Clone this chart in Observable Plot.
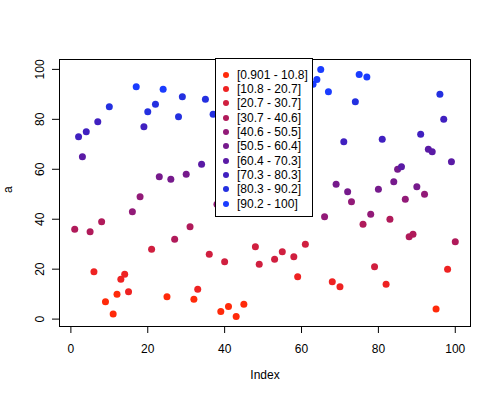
<!DOCTYPE html>
<html>
<head>
<meta charset="utf-8">
<script src="https://cdn.jsdelivr.net/npm/d3@7"></script>
<script src="https://cdn.jsdelivr.net/npm/@observablehq/plot@0.6"></script>
<style>
  body { margin: 0; background: #fff; font-family: "Liberation Sans", Arial, sans-serif; }
  #wrap { position: relative; width: 500px; height: 400px; overflow: hidden; }
  #legend { position: absolute; left: 215px; top: 58px; width: 98px; height: 159px; box-sizing: border-box;
            border: 1px solid #000; background: #fff; font-size: 12px; color: #000; }
  #legend .row { position: absolute; left: 0; height: 14px; line-height: 14px; white-space: nowrap; }
  #legend .dot { position: absolute; left: 7px; top: 4px; width: 6px; height: 6px; border-radius: 50%; }
  #legend .lab { position: absolute; left: 21px; top: 0; }
</style>
</head>
<body>
<div id="wrap"></div>
<script>
// Index values 1..100
const index = d3.range(1, 101);
// Series "a" (12 points hidden behind the legend)
const values = [
  36, 73, 65, 75, 35, 19, 79, 39, 7, 85,
  2, 10, 16, 18, 11, 43, 93, 49, 77, 83,
  28, 86, 57, 92, 9, 56, 32, 81, 89, 58,
  37, 8, 12, 62, 88, 26, 82, 46, 3, 23,
  5, 44, 1, 45, 6, 59, 64, 29, 22, 66,
  69, 70, 24, 76, 27, 78, 84, 25, 17, 95,
  30, 99, 94, 96, 100, 41, 91, 15, 54, 13,
  71, 51, 47, 87, 98, 38, 97, 42, 21, 52,
  72, 14, 40, 55, 60, 61, 48, 33, 34, 53,
  74, 50, 68, 67, 4, 90, 80, 20, 63, 31
];
// Class breaks and legend labels
const breaks = [0.901, 10.8, 20.7, 30.7, 40.6, 50.5, 60.4, 70.3, 80.3, 90.2, 100];
const breakLabels = ["0.901", "10.8", "20.7", "30.7", "40.6", "50.5", "60.4", "70.3", "80.3", "90.2", "100"];
const palette = ["#ff2a0a", "#ee2222", "#d01f3f", "#b01a5a", "#921a78", "#761a8c", "#5a1aa5", "#4020c0", "#2430e0", "#1a3cff"];
const xTicks = [0, 20, 40, 60, 80, 100];
const yTicks = [0, 20, 40, 60, 80, 100];

function classOf(v) {
  let k = d3.bisectLeft(breaks, v) - 1;
  return Math.max(0, Math.min(palette.length - 1, k));
}

const data = index.map((i, k) => ({ i, v: values[k], c: palette[classOf(values[k])] }));

const font = "Liberation Sans, Arial, Helvetica, sans-serif";

const chart = Plot.plot({
  width: 500,
  height: 400,
  marginLeft: 59,
  marginRight: 30,
  marginTop: 59,
  marginBottom: 74,
  style: { fontFamily: font, fontSize: "12px", background: "#fff", color: "#000" },
  x: { domain: [-2.96, 103.96] },
  y: { domain: [-2.96, 103.96] },
  marks: [
    Plot.axisX({ ticks: xTicks, tickSize: 7, tickPadding: 11, label: null, fontSize: 12, stroke: "#000" }),
    Plot.axisY({ ticks: yTicks, tickSize: 7, tickPadding: 9, tickRotate: -90, label: null, fontSize: 12, stroke: "#000" }),
    Plot.frame({ stroke: "#000", strokeWidth: 1 }),
    Plot.dot(data, { x: "i", y: "v", r: 3.5, fill: "c", stroke: "none" }),
    Plot.text(["Index"], { frameAnchor: "bottom", dy: 52, fontSize: 12, fill: "#000" }),
    Plot.text(["a"], { frameAnchor: "left", dx: -51, rotate: -90, fontSize: 12, fill: "#000" })
  ]
});

const wrap = document.getElementById("wrap");
wrap.appendChild(chart);

// Legend box (top-centre, over the plot like R's legend())
const legend = document.createElement("div");
legend.id = "legend";
palette.forEach((col, k) => {
  const row = document.createElement("div");
  row.className = "row";
  row.style.top = (8.7 + k * 14.33) + "px";
  const dot = document.createElement("div");
  dot.className = "dot";
  dot.style.background = col;
  const lab = document.createElement("div");
  lab.className = "lab";
  lab.textContent = "[" + breakLabels[k] + " - " + breakLabels[k + 1] + "]";
  row.appendChild(dot);
  row.appendChild(lab);
  legend.appendChild(row);
});
wrap.appendChild(legend);
</script>
</body>
</html>
